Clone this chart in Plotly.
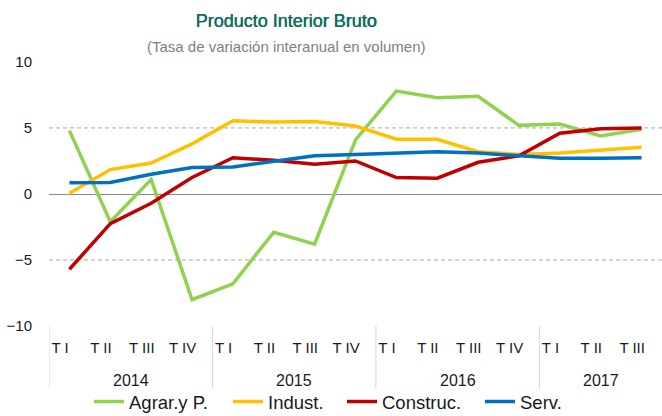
import plotly.graph_objects as go


years = ['2014', '2015', '2016', '2017']
quarters = ['T I', 'T II', 'T III', 'T IV',
            'T I', 'T II', 'T III', 'T IV',
            'T I', 'T II', 'T III', 'T IV',
            'T I', 'T II', 'T III']
quarters_per_year = [4, 4, 4, 3]

agrar = [4.8, -2.1, 1.1, -8.0, -6.8, -2.9, -3.8, 4.1, 7.8, 7.3, 7.4, 5.2, 5.3, 4.4, 4.9]
indust = [0.05, 1.85, 2.35, 3.8, 5.55, 5.45, 5.5, 5.15, 4.15, 4.15, 3.2, 3.0, 3.1, 3.3, 3.55]
construc = [-5.7, -2.25, -0.7, 1.25, 2.75, 2.55, 2.25, 2.5, 1.25, 1.2, 2.4, 2.9, 4.6, 4.95, 5.0]
serv = [0.85, 0.87, 1.5, 2.0, 2.05, 2.5, 2.9, 3.0, 3.1, 3.2, 3.1, 2.9, 2.7, 2.7, 2.75]

series = [
    ('Agrar.y P.', agrar, '#92D050'),
    ('Indust.', indust, '#FFC000'),
    ('Construc.', construc, '#C00000'),
    ('Serv.', serv, '#0070C0'),
]

FONT = 'Liberation Sans, Arial, sans-serif'
W, H = 662, 416
L, T, B = 49, 62, 90
PLOT_H = H - T - B

# left edge (px) of each legend entry, one small legend per series
legend_px = [89, 228, 342, 480]

x_idx = list(range(len(quarters)))

fig = go.Figure()
legend_layout = {}
for k, (name, values, color) in enumerate(series):
    key = 'legend' if k == 0 else 'legend%d' % (k + 1)
    fig.add_trace(go.Scatter(
        x=x_idx, y=values, name=name, mode='lines',
        line=dict(color=color, width=3.5), legend=key,
    ))
    legend_layout[key] = dict(
        orientation='h', xref='container', yref='container',
        x=legend_px[k] / W, xanchor='left', y=(H - 402) / H, yanchor='middle',
        font=dict(family=FONT, size=18.5, color='#1a1a1a'),
        itemwidth=30, bgcolor='rgba(0,0,0,0)',
    )

# darker dashed lines at +/-5
for v in [5, -5]:
    fig.add_hline(y=v, line=dict(color='#9A9A9A', width=1, dash='4px,3px'), layer='below')

# year separators and year labels under the axis
start = 0
for year, n in zip(years, quarters_per_year):
    fig.add_shape(type='line', xref='x', yref='paper',
                  x0=start - 0.5, x1=start - 0.5, y0=0, y1=-63 / PLOT_H,
                  line=dict(color='#D9D9D9', width=1))
    fig.add_annotation(x=start + (n - 1) / 2, y=-54 / PLOT_H, xref='x', yref='paper',
                       text=year, showarrow=False, yanchor='middle',
                       font=dict(family=FONT, size=16, color='#1a1a1a'))
    start += n

fig.add_annotation(
    text='(Tasa de variación interanual en volumen)',
    x=(286 - L) / (W - L), y=(H - B - 46) / PLOT_H, xref='paper', yref='paper',
    showarrow=False, xanchor='center', yanchor='middle',
    font=dict(family=FONT, size=15, color='#808080'),
)

fig.update_layout(
    width=W, height=H,
    margin=dict(l=L, r=0, t=T, b=B),
    plot_bgcolor='white', paper_bgcolor='white',
    font=dict(family=FONT, size=15, color='#1a1a1a'),
    title=dict(
        text='Producto Interior Bruto',
        x=286 / W, xanchor='center', xref='container',
        y=1 - 21 / H, yanchor='middle', yref='container',
        font=dict(family=FONT, size=18, color='#0E6E62',
                  shadow='0.6px 0 0 #0E6E62'),
    ),
    showlegend=True,
    **legend_layout,
    xaxis=dict(
        range=[-0.5, len(quarters) - 0.5],
        tickmode='array',
        tickvals=[i - 0.23 for i in x_idx],
        ticktext=quarters,
        ticks='outside', ticklen=8, tickcolor='rgba(0,0,0,0)',
        showgrid=False, zeroline=False, showline=False,
        tickfont=dict(family=FONT, size=15, color='#1a1a1a'),
    ),
    yaxis=dict(
        range=[-10, 10],
        tickmode='array', tickvals=[-10, -5, 0, 5, 10],
        ticks='outside', ticklen=13, tickcolor='rgba(0,0,0,0)',
        showgrid=True, gridcolor='#DADADA', griddash='4px,3px', gridwidth=1,
        zeroline=True, zerolinecolor='#8C8C8C', zerolinewidth=1,
        showline=False,
        tickfont=dict(family=FONT, size=15, color='#1a1a1a'),
    ),
)

fig.write_html('out.html', config={'displayModeBar': False},
               post_script="document.body.style.margin='0';")
